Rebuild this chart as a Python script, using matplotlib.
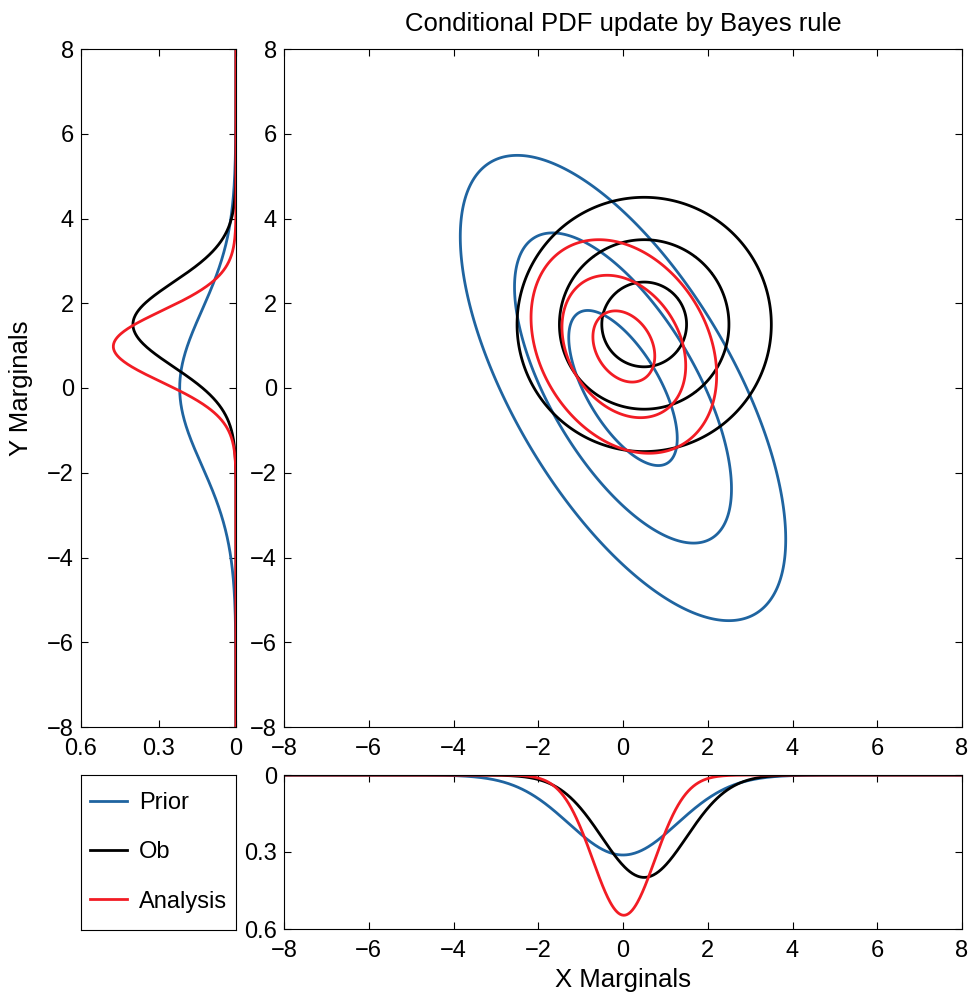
import numpy as np
import matplotlib
matplotlib.use('Agg')
import matplotlib.pyplot as plt
from matplotlib.lines import Line2D

plt.rcParams['font.family'] = ['Liberation Sans', 'DejaVu Sans']
plt.rcParams['font.size'] = 17

# Gaussian parameters: mean x, mean y, std x, std y, correlation
names = ['Prior', 'Ob', 'Analysis']
colors = ['#1f64a0', '#000000', '#f21c24']
mean_x = [0.0, 0.5, 0.02]
mean_y = [0.0, 1.5, 0.98]
std_x = [1.28, 1.0, 0.73]
std_y = [1.83, 1.0, 0.84]
corr = [-0.65, 0.0, -0.27]
sigma_levels = [1, 2, 3]  # contours drawn at 1, 2, 3 standard deviations

ticks_main = [-8, -6, -4, -2, 0, 2, 4, 6, 8]
ticks_marg = [0, 0.3, 0.6]


def gauss(t, m, s):
    return np.exp(-0.5 * ((t - m) / s) ** 2) / (np.sqrt(2 * np.pi) * s)


def mahal2(X, Y, mx, my, sx, sy, r):
    u = (X - mx) / sx
    v = (Y - my) / sy
    return (u * u - 2 * r * u * v + v * v) / (1 - r * r)


W, H = 971, 993
fig = plt.figure(figsize=(W / 100, H / 100), dpi=100)


def px_axes(x0, y0, x1, y1):
    return fig.add_axes([x0 / W, 1 - y1 / H, (x1 - x0) / W, (y1 - y0) / H])


ax = px_axes(284, 49, 962, 727)     # main contour panel
axl = px_axes(81, 49, 236, 727)     # y marginals
axb = px_axes(284, 775, 962, 929)   # x marginals
axg = px_axes(81, 775, 236, 930)    # legend box

for a in (ax, axl, axb, axg):
    a.tick_params(direction='in', length=5, width=0.8, top=True, right=True,
                  labelsize=17)
    a.tick_params(axis='x', pad=8)
    a.tick_params(axis='y', pad=5)
    for sp in a.spines.values():
        sp.set_linewidth(0.8)

t = np.linspace(-8, 8, 801)
X, Y = np.meshgrid(t, t)
lw = 2.0

for i in range(3):
    d2 = mahal2(X, Y, mean_x[i], mean_y[i], std_x[i], std_y[i], corr[i])
    ax.contour(X, Y, d2, levels=[s * s for s in sigma_levels],
               colors=colors[i], linewidths=lw)
    axl.plot(gauss(t, mean_y[i], std_y[i]), t, color=colors[i], lw=lw)
    axb.plot(t, gauss(t, mean_x[i], std_x[i]), color=colors[i], lw=lw)

ax.set_xlim(-8, 8)
ax.set_ylim(-8, 8)
ax.set_xticks(ticks_main)
ax.set_yticks(ticks_main)
ax.set_title('Conditional PDF update by Bayes rule', fontsize=18.5, pad=13)

axl.set_xlim(0.6, 0)
axl.set_ylim(-8, 8)
axl.set_xticks(ticks_marg)
axl.set_xticklabels(['0', '0.3', '0.6'])
axl.set_yticks(ticks_main)
axl.set_ylabel('Y Marginals', fontsize=18.5)
axl.yaxis.set_label_coords(-0.31, 0.5)

axb.set_xlim(-8, 8)
axb.set_ylim(0.6, 0)
axb.set_yticks(ticks_marg)
axb.set_yticklabels(['0', '0.3', '0.6'])
axb.set_xticks(ticks_main)
axb.set_xlabel('X Marginals', fontsize=18.5)
axb.xaxis.set_label_coords(0.5, -0.25)

axg.set_xticks([])
axg.set_yticks([])
handles = [Line2D([], [], color=c, lw=lw) for c in colors]
axg.legend(handles, names, loc='center', frameon=False, fontsize=17,
           handlelength=1.6, handletextpad=0.5, labelspacing=1.15,
           borderaxespad=0)

fig.savefig('out.png', dpi=100)
